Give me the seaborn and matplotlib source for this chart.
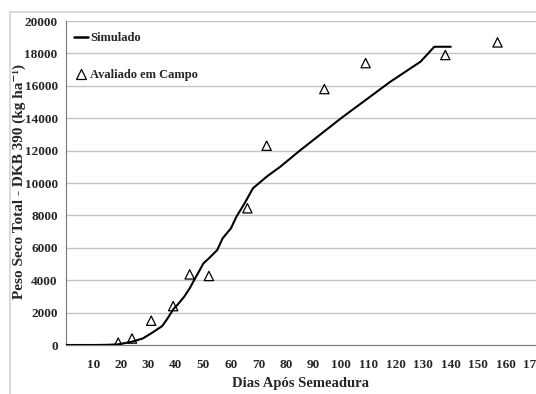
import matplotlib
matplotlib.use("Agg")
import matplotlib.pyplot as plt
from matplotlib.lines import Line2D
from matplotlib.ticker import MultipleLocator
import seaborn as sns
import pandas as pd

# Simulated total dry weight (kg/ha) by days after sowing
sim_days = [0, 10, 15, 19, 24, 28, 31, 35, 37, 39, 41, 43, 45, 47, 49, 50,
            52, 55, 57, 60, 62, 65, 68, 73, 78, 85, 100, 118, 129, 134, 140]
sim_weight = [0, 0, 10, 40, 200, 410, 720, 1170, 1650, 2200, 2570, 2980, 3500,
              4120, 4730, 5040, 5350, 5860, 6590, 7200, 7920, 8750, 9670,
              10390, 11010, 11990, 13990, 16250, 17490, 18410, 18410]

# Field measurements
field_days = [19, 24, 31, 39, 45, 52, 66, 73, 94, 109, 138, 157]
field_weight = [150, 400, 1500, 2400, 4360, 4260, 8440, 12300, 15800, 17400,
                17900, 18680]

x_ticks = [10, 20, 30, 40, 50, 60, 70, 80, 90, 100, 110, 120, 130, 140, 150,
           160, 170]
y_ticks = [0, 2000, 4000, 6000, 8000, 10000, 12000, 14000, 16000, 18000, 20000]

sim_df = pd.DataFrame({"dias": sim_days, "peso": sim_weight})
field_df = pd.DataFrame({"dias": field_days, "peso": field_weight})

sns.set_style("white")
plt.rcParams["font.family"] = ["Liberation Serif", "DejaVu Serif"]
plt.rcParams["font.weight"] = "bold"

W, H = 536, 394
fig = plt.figure(figsize=(W / 100, H / 100), dpi=100)
ax = fig.add_axes([66 / W, 1 - 345 / H, (W - 66) / W, (345 - 21) / H])

# chart-area border
fig.add_artist(Line2D([10 / W, 10 / W], [0, 1 - 12 / H], transform=fig.transFigure,
                      color="#d4d4d4", lw=1.2, zorder=0))
fig.add_artist(Line2D([10 / W, 1], [1 - 12 / H, 1 - 12 / H], transform=fig.transFigure,
                      color="#d4d4d4", lw=1.2, zorder=0))

for yv in y_ticks[1:]:
    ax.axhline(yv, color="#c4c4c4", lw=1.0, zorder=0)

sns.lineplot(data=sim_df, x="dias", y="peso", ax=ax, color="black", lw=1.5,
             zorder=3, legend=False)
sns.scatterplot(data=field_df, x="dias", y="peso", ax=ax, marker="^", s=45,
                facecolor="none", edgecolor="black", linewidth=0.9, zorder=4,
                legend=False)

ax.set_xlim(0, 171)
ax.set_ylim(0, 20000)
ax.set_xticks(x_ticks)
ax.set_yticks(y_ticks)
ax.xaxis.set_minor_locator(MultipleLocator(2))
ax.yaxis.set_minor_locator(MultipleLocator(400))
ax.tick_params(axis="both", which="major", direction="out", length=3, width=0.8,
               color="#808080", labelsize=9.5, pad=3)
ax.tick_params(axis="both", which="minor", direction="out", length=2, width=0.6,
               color="#a0a0a0")
ax.tick_params(axis="x", pad=7)
for lab in ax.get_xticklabels() + ax.get_yticklabels():
    lab.set_fontweight("bold")

for side in ["top", "right"]:
    ax.spines[side].set_visible(False)
for side in ["left", "bottom"]:
    ax.spines[side].set_color("#808080")
    ax.spines[side].set_linewidth(0.9)

ax.set_xlabel("Dias Após Semeadura", fontsize=10.5, fontweight="bold", va="center")
ax.set_ylabel("Peso Seco Total - DKB 390 (kg ha\u207b\u00b9)", fontsize=11,
              fontweight="bold", va="center")
ax.xaxis.set_label_coords(0.498, -0.12)
ax.yaxis.set_label_coords(-0.1, 0.505)

handles = [Line2D([], [], color="black", lw=1.8),
           Line2D([], [], color="black", marker="^", ls="none", mfc="none",
                  mew=0.9, markersize=6.5)]
leg = ax.legend(handles, ["Simulado", "Avaliado em Campo"], loc="upper left",
                bbox_to_anchor=(-0.002, 0.993), frameon=False, handlelength=1.1,
                handletextpad=0.2, labelspacing=2.0, borderaxespad=0.3,
                prop={"family": "Liberation Serif", "weight": "bold", "size": 9})

fig.savefig("out.png", dpi=100)
